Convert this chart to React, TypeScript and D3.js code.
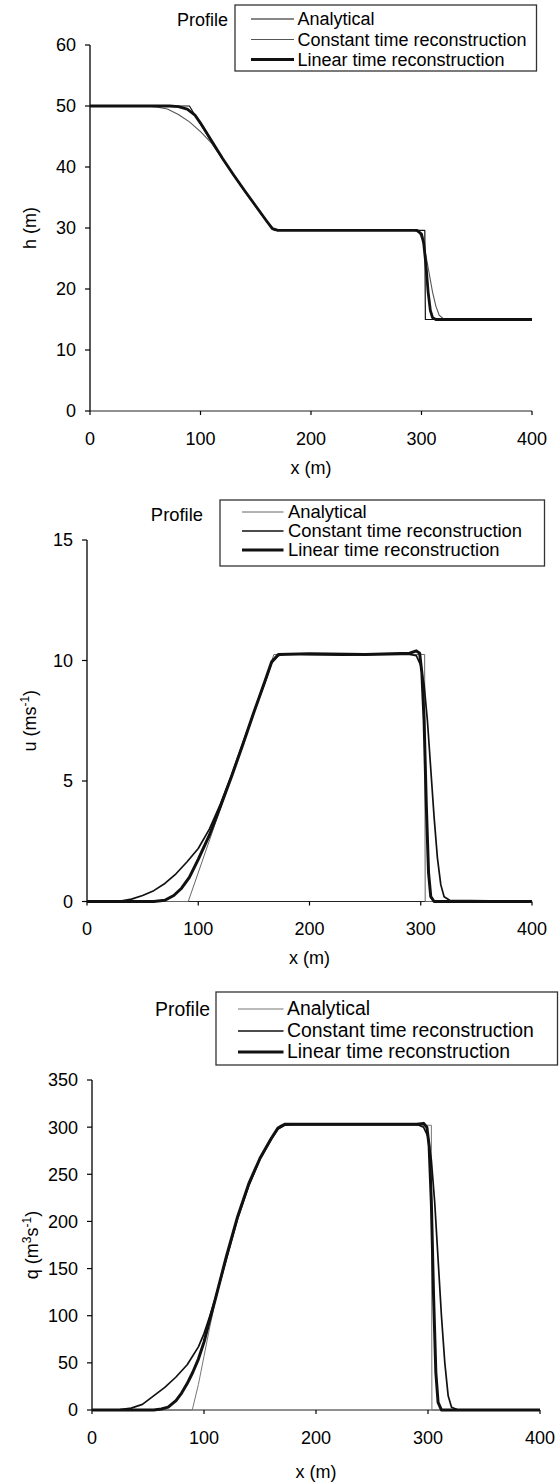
import React from "react";
import * as d3 from "d3";

type Pt = [number, number];

// ---------- data (x in m, value) ----------
const X_TICKS = [0, 100, 200, 300, 400];
const H_TICKS = [0, 10, 20, 30, 40, 50, 60];
const U_TICKS = [0, 5, 10, 15];
const Q_TICKS = [0, 50, 100, 150, 200, 250, 300, 350];

const SERIES_NAMES = ["Analytical", "Constant time reconstruction", "Linear time reconstruction"];

const H_ANALYTICAL: Pt[] = [
  [0, 50], [90, 50], [100, 47.0], [110, 44.1], [120, 41.3], [130, 38.6], [140, 36.0],
  [150, 33.5], [160, 31.0], [167, 29.6], [200, 29.6], [250, 29.6], [303, 29.6], [303.5, 15], [350, 15], [400, 15],
];
const H_CONSTANT: Pt[] = [
  [0, 50], [50, 50], [60, 49.85], [70, 49.5], [80, 48.6], [90, 47.4], [100, 45.8], [110, 43.9],
  [120, 41.3], [130, 38.7], [140, 36.1], [150, 33.6], [160, 31.1], [166, 29.9], [172, 29.6],
  [250, 29.6], [294, 29.6], [298, 29.2], [301, 28.0], [304, 25.5], [307, 22.5], [310, 19.5],
  [313, 17.2], [316, 15.7], [320, 15.1], [325, 15], [400, 15],
];
const H_LINEAR: Pt[] = [
  [0, 50], [72, 50], [80, 49.9], [88, 49.5], [95, 48.5], [100, 47.2], [110, 44.3], [120, 41.4],
  [130, 38.7], [140, 36.1], [150, 33.6], [160, 31.1], [165, 29.9], [170, 29.6], [250, 29.6],
  [296, 29.6], [300, 29.0], [302, 27.5], [304, 24.0], [306, 19.5], [308, 16.5], [310, 15.3],
  [313, 15], [400, 15],
];

const U_ANALYTICAL: Pt[] = [
  [0, 0], [91, 0], [168, 10.25], [200, 10.25], [250, 10.25], [303.5, 10.25], [304, 0], [400, 0],
];
const U_CONSTANT: Pt[] = [
  [0, 0], [30, 0.02], [40, 0.1], [50, 0.25], [60, 0.45], [70, 0.75], [80, 1.15], [90, 1.65],
  [100, 2.2], [110, 3.0], [120, 4.05], [130, 5.25], [140, 6.55], [150, 7.85], [160, 9.1], [166, 9.9],
  [172, 10.2], [178, 10.28], [200, 10.25], [230, 10.22], [260, 10.25], [290, 10.25], [296, 10.2], [300, 9.8],
  [303, 9.0], [306, 7.5], [309, 5.5], [312, 3.5], [315, 1.8], [318, 0.7], [321, 0.2], [326, 0.05], [400, 0],
];
const U_LINEAR: Pt[] = [
  [0, 0], [60, 0], [70, 0.05], [78, 0.25], [85, 0.55], [92, 1.0], [100, 1.75], [110, 2.75],
  [120, 3.95], [130, 5.2], [140, 6.5], [150, 7.85], [160, 9.15], [166, 9.95], [172, 10.25],
  [200, 10.28], [250, 10.25], [290, 10.3], [296, 10.4], [299, 10.3], [301, 9.5], [303, 7.5],
  [305, 4.0], [307, 1.2], [309, 0.2], [312, 0], [400, 0],
];

const Q_ANALYTICAL: Pt[] = [
  [0, 0], [89.5, 0], [95, 27], [100, 57], [105, 87], [110, 115], [120, 163], [130, 205], [140, 240],
  [150, 267], [160, 288], [168, 302], [250, 302], [303, 302], [303.5, 0], [400, 0],
];
const Q_CONSTANT: Pt[] = [
  [0, 0], [25, 0.5], [35, 2], [45, 6], [55, 15], [65, 24], [75, 35], [85, 48], [95, 67],
  [100, 81], [105, 99], [110, 118], [120, 160], [130, 203], [140, 238], [150, 266], [160, 287],
  [166, 298], [172, 302], [180, 303], [290, 303], [296, 300], [300, 290], [303, 265], [306, 220],
  [309, 160], [312, 100], [315, 50], [318, 15], [321, 3], [326, 0.5], [400, 0],
];
const Q_LINEAR: Pt[] = [
  [0, 0], [55, 0], [62, 1], [68, 3], [75, 10], [80, 18], [85, 28], [90, 40], [95, 54], [100, 72],
  [105, 95], [110, 117], [120, 163], [130, 205], [140, 240], [150, 267], [160, 288], [166, 299],
  [172, 303], [290, 303], [296, 304], [299, 300], [301, 280], [303, 220], [305, 120], [307, 40],
  [309, 8], [312, 0], [400, 0],
];

// ---------- layout / styles ----------
const FONT = "'Liberation Sans', Arial, Helvetica, sans-serif";

type Style = { stroke: string; width: number };

interface Panel {
  x0: number; x1: number; yTop: number; yBottom: number; yMax: number;
  yTicks: number[];
  series: Pt[][];
  styles: Style[];
  legend: { boxX0: number; boxX1: number; boxY0: number; boxY1: number; rows: number[]; lineX0: number; lineX1: number; textX: number; profileX: number; profileY: number; fs: number };
  yTitle: React.ReactNode;
  yTitleX: number;
  xTitleDy: number;
}

const panels: Panel[] = [
  {
    x0: 90, x1: 532, yTop: 45, yBottom: 411, yMax: 60, yTicks: H_TICKS,
    series: [H_ANALYTICAL, H_CONSTANT, H_LINEAR],
    styles: [
      { stroke: "#111", width: 1.2 },
      { stroke: "#555", width: 1.1 },
      { stroke: "#111", width: 2.8 },
    ],
    legend: { boxX0: 235, boxX1: 536.5, boxY0: 5, boxY1: 71, rows: [19, 39.5, 59.5], lineX0: 251, lineX1: 294, textX: 297.5, profileX: 228, profileY: 19.5, fs: 18 },
    yTitle: <tspan>h (m)</tspan>,
    yTitleX: 30,
    xTitleDy: 57,
  },
  {
    x0: 87, x1: 532, yTop: 540, yBottom: 901.5, yMax: 15, yTicks: U_TICKS,
    series: [U_ANALYTICAL, U_CONSTANT, U_LINEAR],
    styles: [
      { stroke: "#666", width: 1.0 },
      { stroke: "#111", width: 1.7 },
      { stroke: "#111", width: 3.0 },
    ],
    legend: { boxX0: 220, boxX1: 544.5, boxY0: 500, boxY1: 566, rows: [512, 531, 550], lineX0: 242, lineX1: 283.5, textX: 288, profileX: 203, profileY: 515, fs: 18.4 },
    yTitle: (
      <>
        <tspan>u (ms</tspan>
        <tspan dy={-7} fontSize={12}>-1</tspan>
        <tspan dy={7}>)</tspan>
      </>
    ),
    yTitleX: 30,
    xTitleDy: 57,
  },
  {
    x0: 92, x1: 540, yTop: 1080, yBottom: 1410, yMax: 350, yTicks: Q_TICKS,
    series: [Q_ANALYTICAL, Q_CONSTANT, Q_LINEAR],
    styles: [
      { stroke: "#777", width: 1.0 },
      { stroke: "#111", width: 1.7 },
      { stroke: "#111", width: 3.0 },
    ],
    legend: { boxX0: 216, boxX1: 557.5, boxY0: 992, boxY1: 1065, rows: [1009, 1031, 1052], lineX0: 238, lineX1: 283.5, textX: 287, profileX: 210, profileY: 1010, fs: 19.4 },
    yTitle: (
      <>
        <tspan>q (m</tspan>
        <tspan dy={-7} fontSize={12}>3</tspan>
        <tspan dy={7}>s</tspan>
        <tspan dy={-7} fontSize={12}>-1</tspan>
        <tspan dy={7}>)</tspan>
      </>
    ),
    yTitleX: 32,
    xTitleDy: 62,
  },
];

function PanelView({ p }: { p: Panel }) {
  const x = d3.scaleLinear().domain([0, 400]).range([p.x0, p.x1]);
  const y = d3.scaleLinear().domain([0, p.yMax]).range([p.yBottom, p.yTop]);
  const line = d3
    .line<Pt>()
    .x((d) => x(d[0]))
    .y((d) => y(d[1]));
  const fs = 18;
  const L = p.legend;
  const cx = (p.x0 + p.x1) / 2;
  const cy = (p.yTop + p.yBottom) / 2;
  return (
    <g fontFamily={FONT} fill="#000">
      <line x1={p.x0} x2={p.x0} y1={p.yTop} y2={p.yBottom} stroke="#000" strokeWidth={1.3} />
      <line x1={p.x0} x2={p.x1} y1={p.yBottom} y2={p.yBottom} stroke="#222" strokeWidth={1.2} />
      {p.yTicks.map((t) => (
        <g key={"y" + t}>
          <line x1={p.x0 - 5} x2={p.x0} y1={y(t)} y2={y(t)} stroke="#000" strokeWidth={1.2} />
          <text x={p.x0 - 14} y={y(t) + 6.4} textAnchor="end" fontSize={fs}>{t}</text>
        </g>
      ))}
      {X_TICKS.map((t) => (
        <g key={"x" + t}>
          <line x1={x(t)} x2={x(t)} y1={p.yBottom} y2={p.yBottom + 4} stroke="#000" strokeWidth={1.2} />
          <text x={x(t)} y={p.yBottom + 33.5} textAnchor="middle" fontSize={fs}>{t}</text>
        </g>
      ))}
      <text x={cx} y={p.yBottom + p.xTitleDy + 5.5} textAnchor="middle" fontSize={fs}>x (m)</text>
      <text transform={`translate(${p.yTitleX},${cy}) rotate(-90)`} textAnchor="middle" fontSize={fs} dy={6}>
        {p.yTitle}
      </text>
      {p.series.map((s, i) => (
        <path key={"s" + i} d={line(s) || ""} fill="none" stroke={p.styles[i].stroke} strokeWidth={p.styles[i].width} strokeLinejoin="round" />
      ))}
      <text x={L.profileX} y={L.profileY + 6.4} textAnchor="end" fontSize={L.fs}>Profile</text>
      <rect x={L.boxX0} y={L.boxY0} width={L.boxX1 - L.boxX0} height={L.boxY1 - L.boxY0} fill="#fff" stroke="#333" strokeWidth={1.3} />
      {SERIES_NAMES.map((name, i) => (
        <g key={"l" + i}>
          <line x1={L.lineX0} x2={L.lineX1} y1={L.rows[i]} y2={L.rows[i]} stroke={p.styles[i].stroke} strokeWidth={p.styles[i].width} />
          <text x={L.textX} y={L.rows[i] + 6.4} fontSize={L.fs}>{name}</text>
        </g>
      ))}
    </g>
  );
}

export default function App() {
  return (
    <svg width={559} height={1482} style={{ position: "absolute", left: 0, top: 0, background: "#fff" }}>
      <rect x={0} y={0} width={559} height={1482} fill="#fff" />
      {panels.map((p, i) => (
        <PanelView key={i} p={p} />
      ))}
    </svg>
  );
}
